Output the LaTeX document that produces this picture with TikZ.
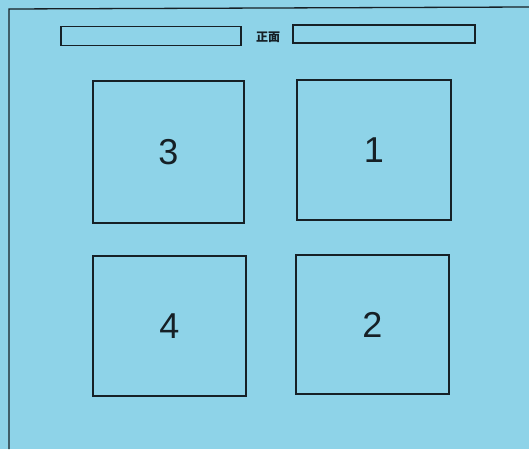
\documentclass[tikz,border=0pt]{standalone}
\usepackage{fontspec}
\setmainfont{Liberation Sans}
\newfontfamily\cjk{Noto Sans CJK SC}
\definecolor{paper}{RGB}{142,211,232}
\definecolor{ink}{RGB}{22,32,38}
\begin{document}
\begin{tikzpicture}[x=1pt,y=-1pt,
  bar/.style={draw=ink,line width=1.6pt},
  seat/.style={draw=ink,line width=2.8pt,font=\fontsize{36}{40}\selectfont,text=ink},
  frame/.style={draw=ink,line width=1.3pt}]
\fill[paper] (0,0) rectangle (529,449);
\useasboundingbox (0,0) rectangle (529,449);
\coordinate (fbl) at (9,449);
\coordinate (ftl) at (9,9);
\coordinate (ftr) at (529,7);
\draw[frame] (fbl) -- (ftl) -- (ftr);
\node[bar,minimum width=180pt,minimum height=19pt,inner sep=0pt] (barL) at (151,36) {};
\node[bar,minimum width=182pt,minimum height=18pt,inner sep=0pt] (barR) at (384,34) {};
\node[font=\cjk\bfseries\fontsize{12}{14}\selectfont,text=ink] (front) at (268,37) {正面};
\node[seat,minimum width=151pt,minimum height=142pt,inner sep=0pt] (s3) at (168.5,152) {3};
\node[seat,minimum width=154pt,minimum height=140pt,inner sep=0pt] (s1) at (374,150) {1};
\node[seat,minimum width=153pt,minimum height=140pt,inner sep=0pt] (s4) at (169.5,326) {4};
\node[seat,minimum width=153pt,minimum height=139pt,inner sep=0pt] (s2) at (372.5,324.5) {2};
\end{tikzpicture}
\end{document}
